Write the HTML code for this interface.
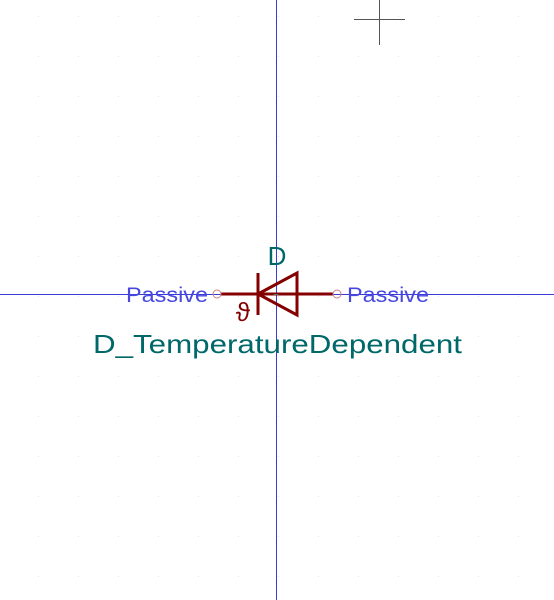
<!DOCTYPE html>
<html><head><meta charset="utf-8"><style>
html,body{margin:0;padding:0;background:#fff;width:554px;height:600px;overflow:hidden}
text{font-family:"Liberation Sans","DejaVu Sans",sans-serif}
</style></head><body>
<svg width="554" height="600" viewBox="0 0 554 600" xmlns="http://www.w3.org/2000/svg">
<g id="grid" fill="#e4e4e4"></g>
<line x1="276.5" y1="0" x2="276.5" y2="600" stroke="#3a3ad8" stroke-width="1"/>
<line x1="0" y1="294.5" x2="554" y2="294.5" stroke="#3a3ad8" stroke-width="1"/>
<g stroke="#555" stroke-width="1">
<line x1="379.5" y1="0" x2="379.5" y2="45"/><line x1="354" y1="19.5" x2="405" y2="19.5"/>
</g>
<g stroke="#840000" fill="none" stroke-width="3">
<line x1="221" y1="294" x2="333" y2="294"/>
<line x1="258" y1="273" x2="258" y2="315"/>
<polygon points="258,294 297,273 297,315"/>
</g>
<circle cx="217" cy="294" r="4" fill="none" stroke="#d08080" stroke-width="1"/>
<circle cx="337" cy="294" r="4" fill="none" stroke="#d08080" stroke-width="1"/>
<text x="276" y="298" font-size="10" fill="#48a0a0" text-anchor="middle">~</text>
<text x="243" y="321" font-size="26" fill="#840000" text-anchor="middle">ϑ</text>
<text x="126" y="302" font-size="21" fill="#4848e0" textLength="82" lengthAdjust="spacingAndGlyphs">Passive</text>
<text x="347" y="302" font-size="21" fill="#4848e0" textLength="82" lengthAdjust="spacingAndGlyphs">Passive</text>
<text x="277" y="265" font-size="26" fill="#006868" text-anchor="middle">D</text>
<text x="93" y="353" font-size="26" fill="#006868" textLength="369" lengthAdjust="spacingAndGlyphs">D_TemperatureDependent</text>
</svg>
<script>
var g=document.getElementById('grid');
for(var x=38;x<554;x+=40){for(var y=16;y<600;y+=40){
var c=document.createElementNS('http://www.w3.org/2000/svg','rect');


c.setAttribute('x',x);c.setAttribute('y',y);c.setAttribute('width',1);c.setAttribute('height',1);
g.appendChild(c);}}
</script>
</body></html>
